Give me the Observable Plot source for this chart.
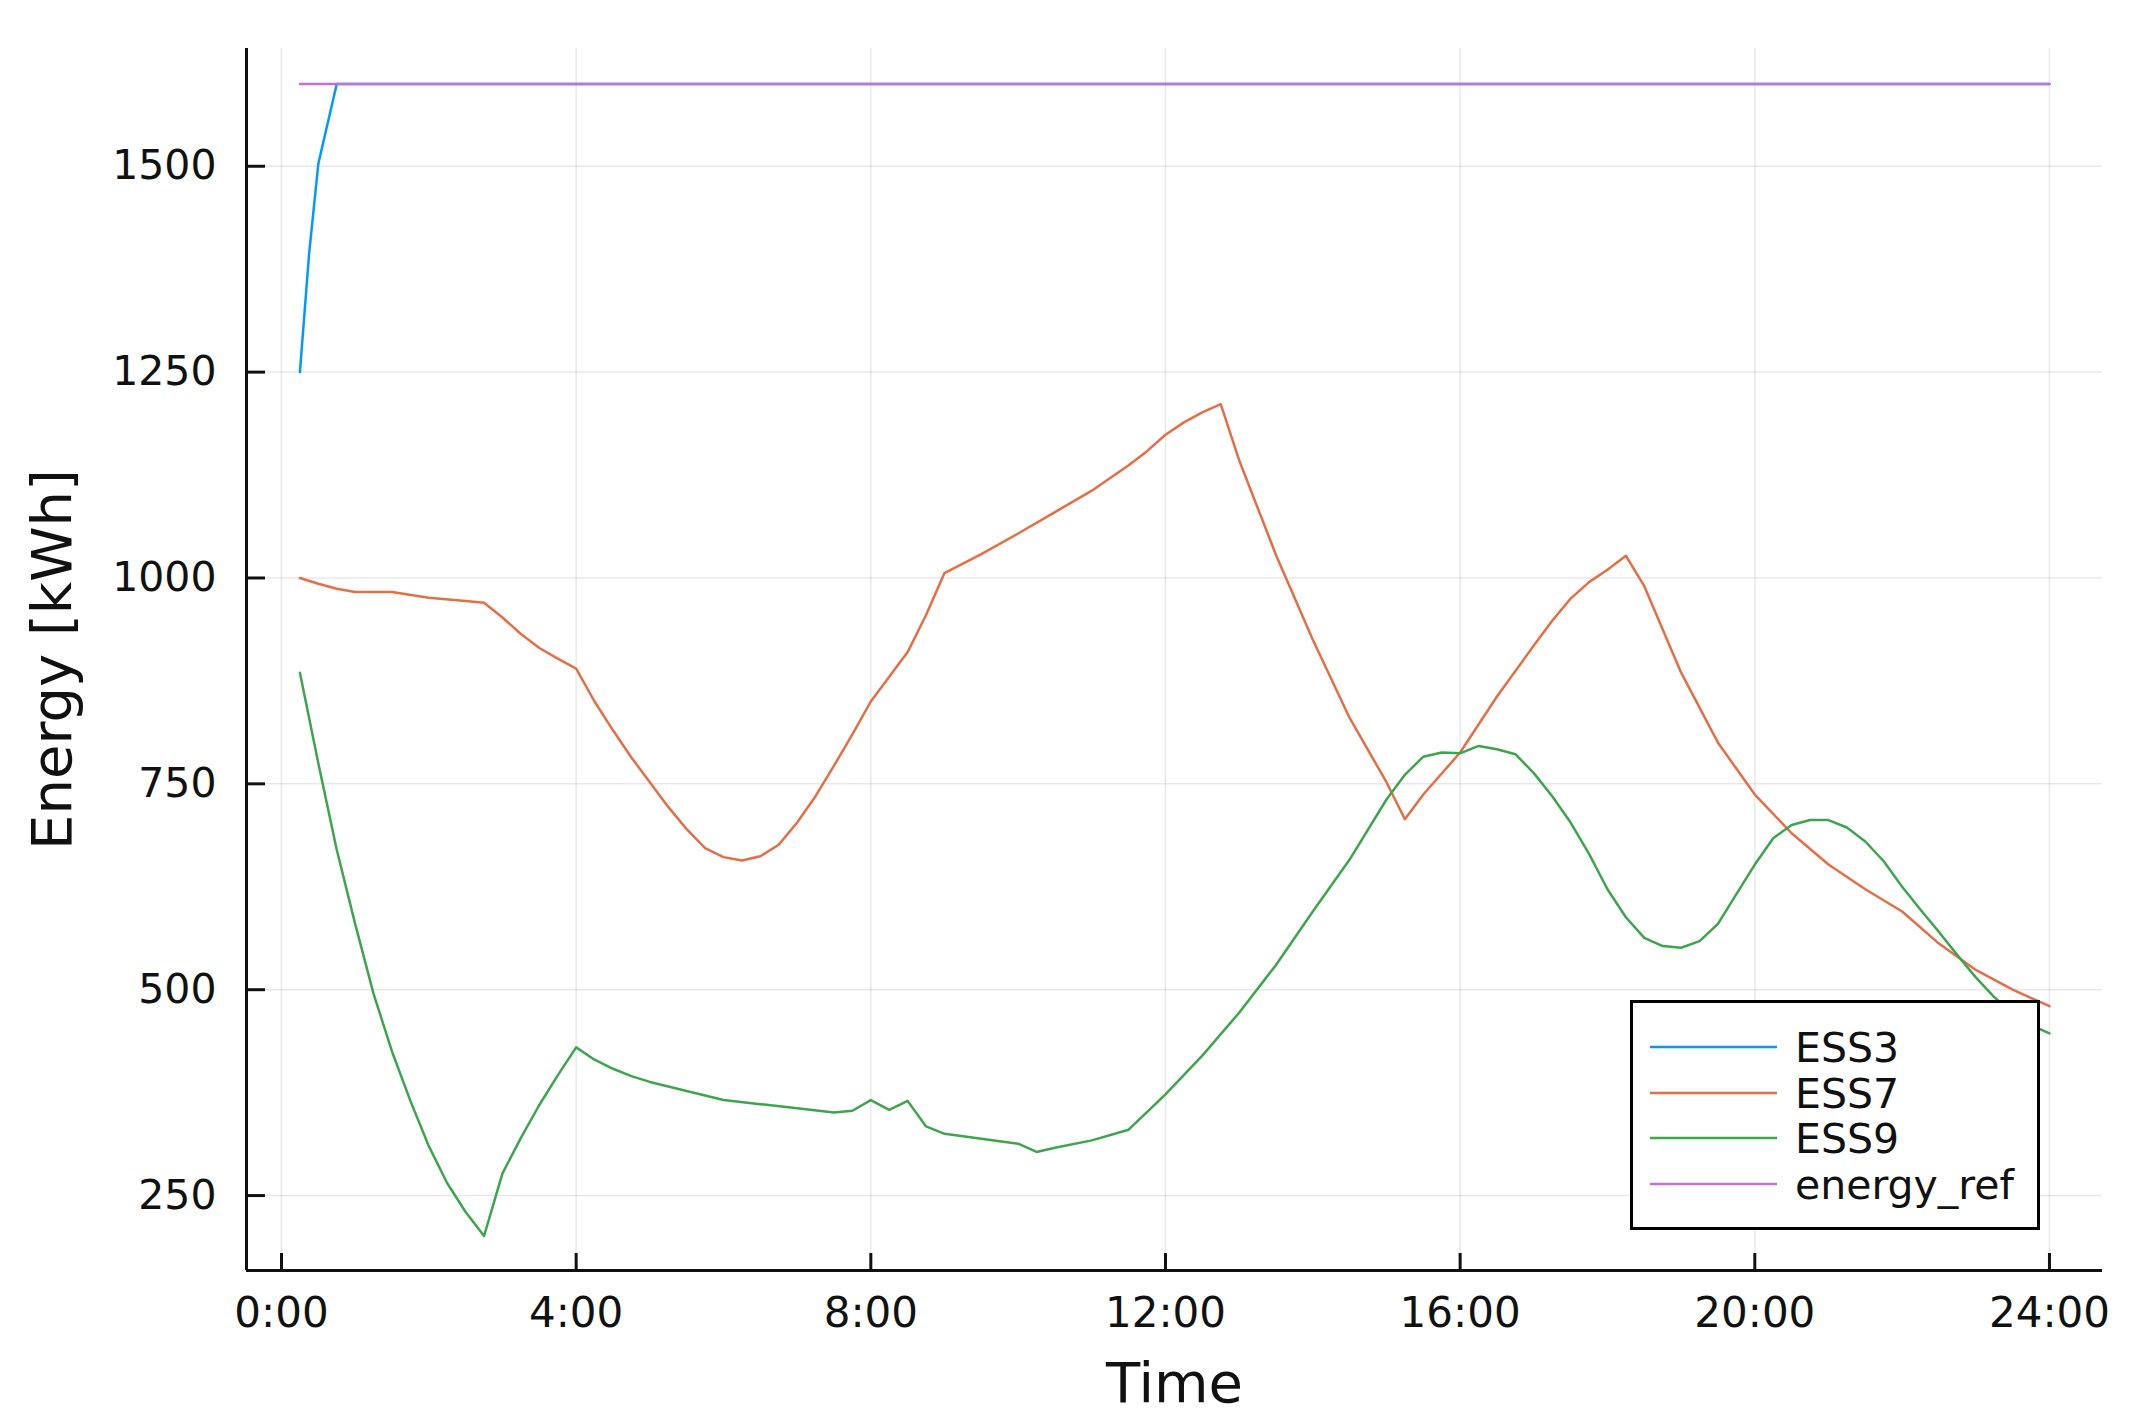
<!DOCTYPE html>
<html>
<head>
<meta charset="utf-8">
<script src="https://cdn.jsdelivr.net/npm/d3@7"></script>
<script src="https://cdn.jsdelivr.net/npm/@observablehq/plot@0.6"></script>
<style>
  body { margin: 0; background: #fff; }
  #chart { position: relative; width: 2139px; height: 1426px; }
</style>
</head>
<body>
<div id="chart"></div>
<script>
// ---- Data (hours since midnight, energy in kWh) ----
const ess3Time   = [0.25, 0.375, 0.5, 0.75, 24];
const ess3Energy = [1250, 1394, 1503, 1600, 1600];

const ess7Time = [0.25,0.5,0.75,1,1.5,2,2.5,2.75,3,3.25,3.5,3.75,4,4.25,4.5,4.75,5,5.25,5.5,5.75,6,6.25,6.5,6.75,7,7.25,7.5,7.75,8,8.25,8.5,8.75,9,9.5,10,10.5,11,11.5,11.75,12,12.25,12.5,12.75,13,13.5,14,14.5,15,15.25,15.5,16,16.5,17,17.25,17.5,17.75,18,18.25,18.5,19,19.5,20,20.5,21,21.5,22,22.5,23,23.5,24];
const ess7Energy = [1000,993,987,983,983,976,972,970,952,932,915,902,890,850,815,782,752,722,695,672,661,657,662,676,703,735,772,810,850,880,910,955,1006,1029,1054,1080,1106,1137,1154,1174,1189,1201,1211,1143,1028,925,830,752,707,737,788,856,918,948,975,995,1010,1027,990,885,800,737,690,652,622,595,556,524,500,480];

const ess9Time = [0.25,0.5,0.75,1,1.25,1.5,1.75,2,2.25,2.5,2.75,3,3.25,3.5,3.75,4,4.25,4.5,4.75,5,5.5,6,6.5,7,7.5,7.75,8,8.25,8.5,8.75,9,9.5,10,10.25,10.5,11,11.5,12,12.5,13,13.5,14,14.5,15,15.25,15.5,15.75,16,16.25,16.5,16.75,17,17.25,17.5,17.75,18,18.25,18.5,18.75,19,19.25,19.5,19.75,20,20.25,20.5,20.75,21,21.25,21.5,21.75,22,22.25,22.5,22.75,23,23.25,23.5,23.75,24];
const ess9Energy = [885,775,670,580,495,425,365,310,265,230,201,277,320,360,396,430,415,404,395,388,377,366,361,356,351,353,366,354,365,334,325,319,313,303,308,317,330,373,420,472,530,595,658,731,761,783,788,787,796,792,786,763,735,703,665,622,588,563,553,551,559,580,616,652,684,700,706,706,697,680,656,625,597,570,542,515,491,472,457,447];

const refTime   = [0.25, 24];
const refEnergy = [1600, 1600];

const seriesNames  = ["ESS3", "ESS7", "ESS9", "energy_ref"];
const seriesColors = ["#009AFA", "#E36F47", "#3EA44E", "#C371D2"];

const xTicks = [0, 4, 8, 12, 16, 20, 24];
const yTicks = [250, 500, 750, 1000, 1250, 1500];
const xDomain = [-0.475, 24.72];
const yDomain = [159, 1643];

// ---- Build tables ----
const rows = (ts, es) => ts.map((t, i) => ({t, e: es[i]}));
const tables = [
  rows(ess3Time, ess3Energy),
  rows(ess7Time, ess7Energy),
  rows(ess9Time, ess9Energy),
  rows(refTime, refEnergy)
];

const W = 2139, H = 1426;
const mL = 246, mR = 37, mT = 48, mB = 156;
const plotW = W - mL - mR, plotH = H - mT - mB;
const axisColor = "#111";

const chart = Plot.plot({
  width: W, height: H,
  marginLeft: mL, marginRight: mR, marginTop: mT, marginBottom: mB,
  x: {domain: xDomain, label: null},
  y: {domain: yDomain, label: null},
  style: {fontFamily: "'DejaVu Sans', sans-serif", fontSize: "41px", color: axisColor, background: "#fff"},
  marks: [
    Plot.gridX(xTicks, {stroke: "#000", strokeOpacity: 0.09, strokeWidth: 1.5}),
    Plot.gridY(yTicks, {stroke: "#000", strokeOpacity: 0.09, strokeWidth: 1.5}),
    ...tables.map((d, i) => Plot.line(d, {x: "t", y: "e", stroke: seriesColors[i], strokeWidth: 2.5})),
    Plot.ruleX([xDomain[0]], {stroke: axisColor, strokeWidth: 3}),
    Plot.ruleY([yDomain[0]], {stroke: axisColor, strokeWidth: 3}),
    Plot.tickX(xTicks, {x: d => d, insetTop: plotH - 17, stroke: axisColor, strokeWidth: 3}),
    Plot.tickY(yTicks, {y: d => d, insetRight: plotW - 19, stroke: axisColor, strokeWidth: 3}),
    Plot.axisX(xTicks, {tickSize: 0, tickPadding: 27, tickFormat: d => `${d}:00`, fontSize: 42}),
    Plot.axisY(yTicks, {tickSize: 0, tickPadding: 30, tickFormat: d => `${d}`, fontSize: 41}),
    Plot.text(["Time"], {frameAnchor: "bottom", dy: 114, fontSize: 56, textAnchor: "middle", lineAnchor: "middle"}),
    Plot.text(["Energy [kWh]"], {frameAnchor: "left", rotate: -90, dx: -193, fontSize: 56, textAnchor: "middle", lineAnchor: "middle"})
  ]
});

document.getElementById("chart").appendChild(chart);

// ---- Legend (inside the plot, bottom right) ----
const svg = d3.select(chart);
const lg = svg.append("g").attr("class", "legend").attr("text-anchor", "start");
lg.append("rect")
  .attr("x", 1631.5).attr("y", 1001.5)
  .attr("width", 407).attr("height", 227)
  .attr("fill", "#fff").attr("stroke", "#000").attr("stroke-width", 3);
const rowY = [1047, 1093, 1138, 1184];
seriesNames.forEach((name, i) => {
  lg.append("line")
    .attr("x1", 1650).attr("x2", 1777)
    .attr("y1", rowY[i]).attr("y2", rowY[i])
    .attr("stroke", seriesColors[i]).attr("stroke-width", 2.5);
  lg.append("text")
    .attr("x", 1795).attr("y", rowY[i]).attr("dy", "0.36em")
    .attr("text-anchor", "start")
    .attr("font-size", 41).attr("fill", axisColor)
    .text(name);
});
</script>
</body>
</html>
